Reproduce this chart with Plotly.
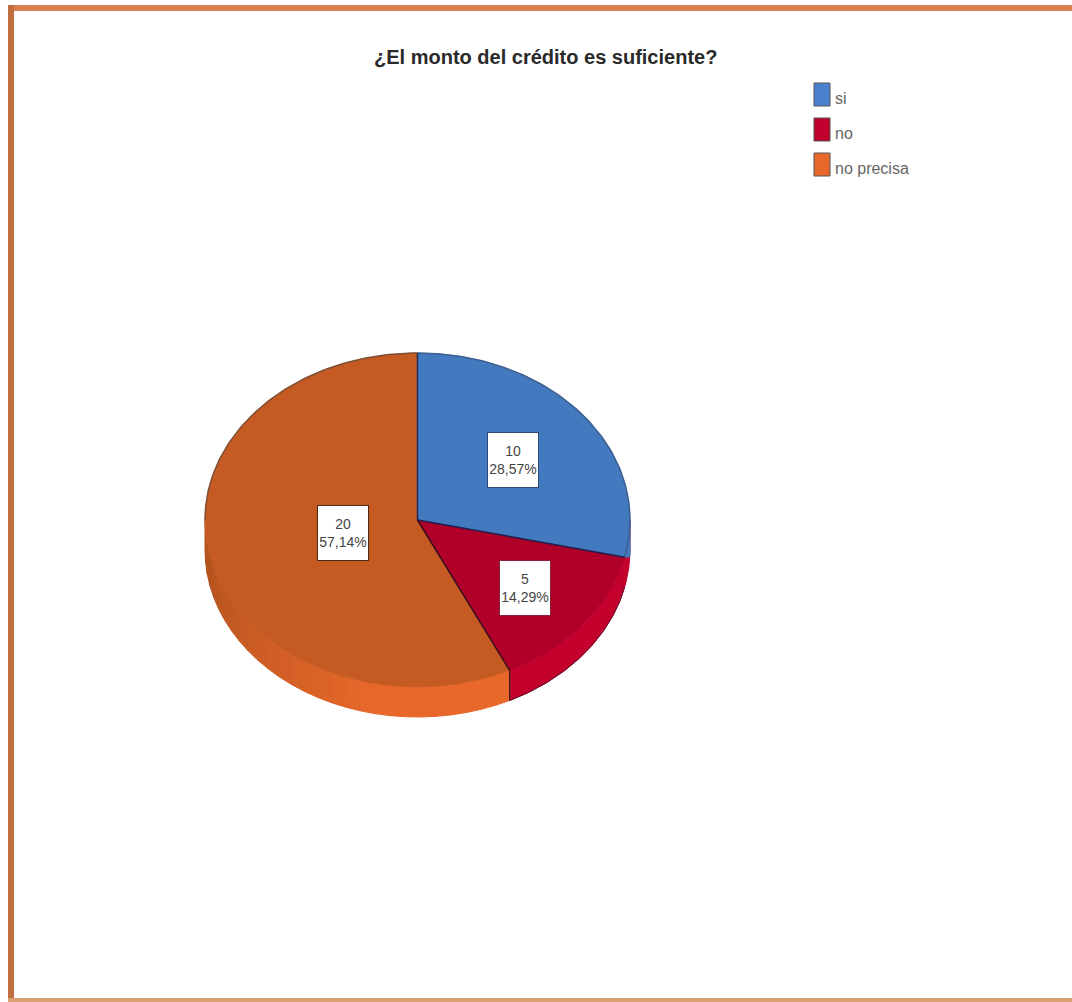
import numpy as np
import plotly.graph_objects as go

title = "¿El monto del crédito es suficiente?"
categories = ["si", "no", "no precisa"]
counts = [10, 5, 20]
percent_labels = ["28,57%", "14,29%", "57,14%"]

top_colors = ["#4279BF", "#B0002A", "#C55A22"]
side_colors = ["#4279BF", "#C4002D", "#E8682A"]
arc_colors = ["#3F5F8F", "#5E1028", "#7E5036"]
radial_colors = ["#1F2F5C", "#1F1F50", "#3A0A20"]
legend_colors = ["#4A80CC", "#C0002C", "#E8682A"]
box_borders = ["#2F4A78", "#8A2038", "#4A2A18"]
label_radius = [0.577, 0.65, 0.36]

CX, CY, RX, RY, DEPTH = 417.5, 520, 212.5, 167, 30
FONT = "Liberation Sans, Arial, sans-serif"
NOFILL = dict(mode="lines", hoverinfo="skip", showlegend=False)


def rim(a0, a1, dy=0.0, n=80):
    t = np.radians(np.linspace(a0, a1, n))
    return CX + RX * np.sin(t), CY + dy - RY * np.cos(t)


def band(a0, a1, colour, y_limit=None):
    x0, y0 = rim(a0, a1)
    x1, y1 = rim(a1, a0, DEPTH)
    ys = np.r_[y0, y1, y0[0]]
    if y_limit is not None:
        ys = np.minimum(ys, y_limit)
    return go.Scatter(x=np.r_[x0, x1, x0[0]], y=ys, fill="toself",
                      fillcolor=colour, line=dict(color=colour, width=1), **NOFILL)


def blend(c0, c1, f):
    a = [int(c0[k:k + 2], 16) for k in (1, 3, 5)]
    b = [int(c1[k:k + 2], 16) for k in (1, 3, 5)]
    return "#" + "".join(f"{round(p + (q - p) * f):02x}" for p, q in zip(a, b))


total = sum(counts)
edges = np.concatenate([[0], np.cumsum(counts) / total * 360])
fig = go.Figure()

# extruded rim, only the part facing the viewer
fig.add_trace(band(90, edges[2], side_colors[1]))
fig.add_trace(band(90, edges[1], side_colors[0], y_limit=rim(edges[1], edges[1], n=1)[1][0]))
# rim of the large slice: darker towards the left, brighter at the bottom
steps = np.linspace(edges[2], 270, 29)
for a0, a1 in zip(steps[:-1], steps[1:]):
    f = np.clip(((a0 + a1) / 2 - 190) / 70, 0, 1)
    fig.add_trace(band(a0, a1, blend(side_colors[2], "#B5531F", f)))

# silhouette of the lower edge of the small slice
xs, ys = rim(edges[1], edges[2], DEPTH)
fig.add_trace(go.Scatter(x=xs, y=ys, line=dict(color=arc_colors[1], width=1), **NOFILL))

# top face
for i, cat in enumerate(categories):
    xa, ya = rim(edges[i], edges[i + 1], n=160)
    fig.add_trace(go.Scatter(
        x=np.r_[CX, xa, CX], y=np.r_[CY, ya, CY], fill="toself", name=cat,
        fillcolor=top_colors[i], line=dict(color=top_colors[i], width=0.5), **NOFILL))

# outlines of the upper rim and the dividers
xa, ya = rim(edges[0], edges[1], n=120)
fig.add_trace(go.Scatter(x=xa, y=ya, line=dict(color=arc_colors[0], width=1.5), **NOFILL))
xa, ya = rim(270, 360, n=120)
fig.add_trace(go.Scatter(x=xa, y=ya, line=dict(color=arc_colors[2], width=1.5), **NOFILL))
for k, colour in enumerate(radial_colors):
    xa, ya = rim(edges[k], edges[k], n=1)
    fig.add_trace(go.Scatter(x=[CX, xa[0]], y=[CY, ya[0]], line=dict(color=colour, width=1.5), **NOFILL))
xa, ya = rim(edges[2], edges[2], n=1)
fig.add_trace(go.Scatter(x=[xa[0], xa[0]], y=[ya[0], ya[0] + DEPTH],
                         line=dict(color=radial_colors[2], width=1.2), **NOFILL))

annotations = [
    dict(x=545, y=57, text=f"<b>{title}</b>", showarrow=False, xref="x", yref="y",
         font=dict(family=FONT, size=20, color="#2A2A2A"))
]
for i, cat in enumerate(categories):
    mid = np.radians((edges[i] + edges[i + 1]) / 2)
    annotations.append(dict(
        x=CX + label_radius[i] * RX * np.sin(mid), y=CY - label_radius[i] * RY * np.cos(mid),
        text=f"{counts[i]}<br>{percent_labels[i]}", showarrow=False, xref="x", yref="y",
        font=dict(family=FONT, size=14, color="#444444"), bgcolor="white",
        bordercolor=box_borders[i], borderwidth=1, borderpad=0, align="center",
        width=50, height=54))

shapes = [
    dict(type="rect", xref="x", yref="y", x0=8, x1=1072, y0=5, y1=11, fillcolor="#D9804F", line_width=0),
    dict(type="rect", xref="x", yref="y", x0=8, x1=14, y0=5, y1=1002, fillcolor="#C07040", line_width=0),
    dict(type="rect", xref="x", yref="y", x0=8, x1=1072, y0=998, y1=1002, fillcolor="#D9A070", line_width=0),
]
for i, cat in enumerate(categories):
    yc = 95 + 35 * i
    shapes.append(dict(type="rect", xref="x", yref="y", x0=814, x1=830, y0=yc - 12, y1=yc + 11,
                       fillcolor=legend_colors[i], line=dict(color="#555555", width=1)))
    annotations.append(dict(x=833, y=yc + 3, text=cat, showarrow=False, xanchor="left", xref="x", yref="y",
                            font=dict(family=FONT, size=16, color="#666666")))

fig.update_layout(
    width=1072, height=1002, margin=dict(l=0, r=0, t=0, b=0),
    paper_bgcolor="white", plot_bgcolor="white", showlegend=False,
    xaxis=dict(range=[0, 1072], visible=False, fixedrange=True),
    yaxis=dict(range=[1002, 0], visible=False, fixedrange=True),
    annotations=annotations, shapes=shapes,
)
fig.write_html("out.html", config={"displayModeBar": False},
               post_script="document.body.style.margin='0';")
